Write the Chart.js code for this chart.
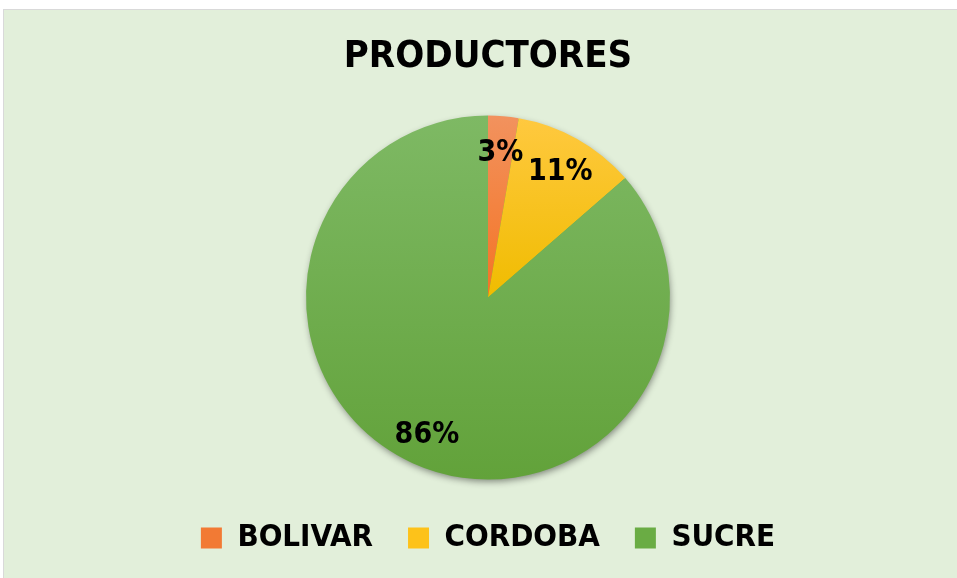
<!DOCTYPE html>
<html lang="es">
<head>
<meta charset="utf-8">
<title>PRODUCTORES</title>
<script src="https://cdn.jsdelivr.net/npm/chart.js@4/dist/chart.umd.min.js"></script>
<style>
    html, body { margin: 0; padding: 0; background: #ffffff; overflow: hidden; }
    #chart-box {
        position: absolute; left: 3px; top: 9px;
        width: 968px; height: 568px;
        border-left: 1px solid #d9d9d9; border-top: 1px solid #d9d9d9;
        background: #E2EFDA;
    }
    #chart-box canvas { display: block; }
</style>
</head>
<body>
<div id="chart-box"><canvas id="pieChart" width="968" height="568"></canvas></div>
<script>
// ==========================================
// 1. datos
// ==========================================
const labels = ["BOLIVAR", "CORDOBA", "SUCRE"];
const values = [2.7, 10.9, 86.4];

const colorTop = ["#F2925E", "#FFC940", "#7EB964"];
const colorBottom = ["#F47424", "#F0BC00", "#62A23A"];
const colorLegend = ["#F27A34", "#FDC21A", "#6AAC44"];
// hasta donde llega el degradado (0.5 = centro, 1 = borde inferior)
const gradEnd = [0.5, 0.5, 1];

const FONT = "'DejaVu Sans Condensed', 'DejaVu Sans', sans-serif";
const RADIUS = 182;

// ==========================================
// 2. plugins
// ==========================================
const total = values.reduce((s, v) => s + v, 0);

// sombra suave debajo del pastel
const pieShadow = {
    id: 'pieShadow',
    beforeDatasetsDraw(chart) {
        const arc = chart.getDatasetMeta(0).data[0];
        if (!arc) return;
        const ctx = chart.ctx;
        ctx.save();
        ctx.shadowColor = 'rgba(0,0,0,0.45)';
        ctx.shadowBlur = 7;
        ctx.shadowOffsetX = 1;
        ctx.shadowOffsetY = 3;
        ctx.fillStyle = '#6aab45';
        ctx.beginPath();
        ctx.arc(arc.x, arc.y, arc.outerRadius - 1, 0, Math.PI * 2);
        ctx.fill();
        ctx.restore();
    }
};

// porcentajes dentro de cada porcion
const pctLabels = {
    id: 'pctLabels',
    afterDatasetsDraw(chart) {
        const ctx = chart.ctx;
        ctx.save();
        ctx.font = "bold 30px " + FONT;
        ctx.fillStyle = '#000';
        ctx.textAlign = 'center';
        ctx.textBaseline = 'middle';
        chart.getDatasetMeta(0).data.forEach((arc, i) => {
            const mid = (arc.startAngle + arc.endAngle) / 2;
            const d = arc.outerRadius * 0.81;
            const txt = Math.round(values[i] / total * 100) + '%';
            ctx.fillText(txt, arc.x + Math.cos(mid) * d, arc.y + Math.sin(mid) * d + 3);
        });
        ctx.restore();
    }
};

function sliceFill(context) {
    const i = context.dataIndex;
    const area = context.chart.chartArea;
    if (!area) return colorBottom[i];
    const cy = (area.top + area.bottom) / 2;
    const y0 = cy - RADIUS;
    const y1 = y0 + RADIUS * 2 * gradEnd[i];
    const g = context.chart.ctx.createLinearGradient(0, y0, 0, y1);
    g.addColorStop(0, colorTop[i]);
    g.addColorStop(1, colorBottom[i]);
    return g;
}

// ==========================================
// 3. grafico
// ==========================================
window.onload = () => {
    const ctx = document.getElementById('pieChart').getContext('2d');
    window.pieChart = new Chart(ctx, {
        type: 'pie',
        data: {
            labels: labels,
            datasets: [{
                data: values,
                backgroundColor: sliceFill,
                borderWidth: 0,
                radius: RADIUS
            }]
        },
        options: {
            responsive: false,
            animation: false,
            layout: { padding: { top: 0, bottom: 14.5, left: 0, right: 0 } },
            plugins: {
                title: {
                    display: true,
                    text: 'PRODUCTORES',
                    color: '#000',
                    font: { family: FONT, size: 38, weight: 'bold' },
                    padding: { top: 24, bottom: 28 }
                },
                legend: {
                    position: 'bottom',
                    labels: {
                        color: '#000',
                        font: { family: FONT, size: 31, weight: 'bold' },
                        boxWidth: 21,
                        boxHeight: 21,
                        padding: 35,
                        generateLabels(chart) {
                            return labels.map((l, i) => ({
                                text: l,
                                fillStyle: colorLegend[i],
                                strokeStyle: colorLegend[i],
                                lineWidth: 0,
                                index: i
                            }));
                        }
                    }
                },
                tooltip: { enabled: false }
            }
        },
        plugins: [pieShadow, pctLabels]
    });
};
</script>
</body>
</html>
